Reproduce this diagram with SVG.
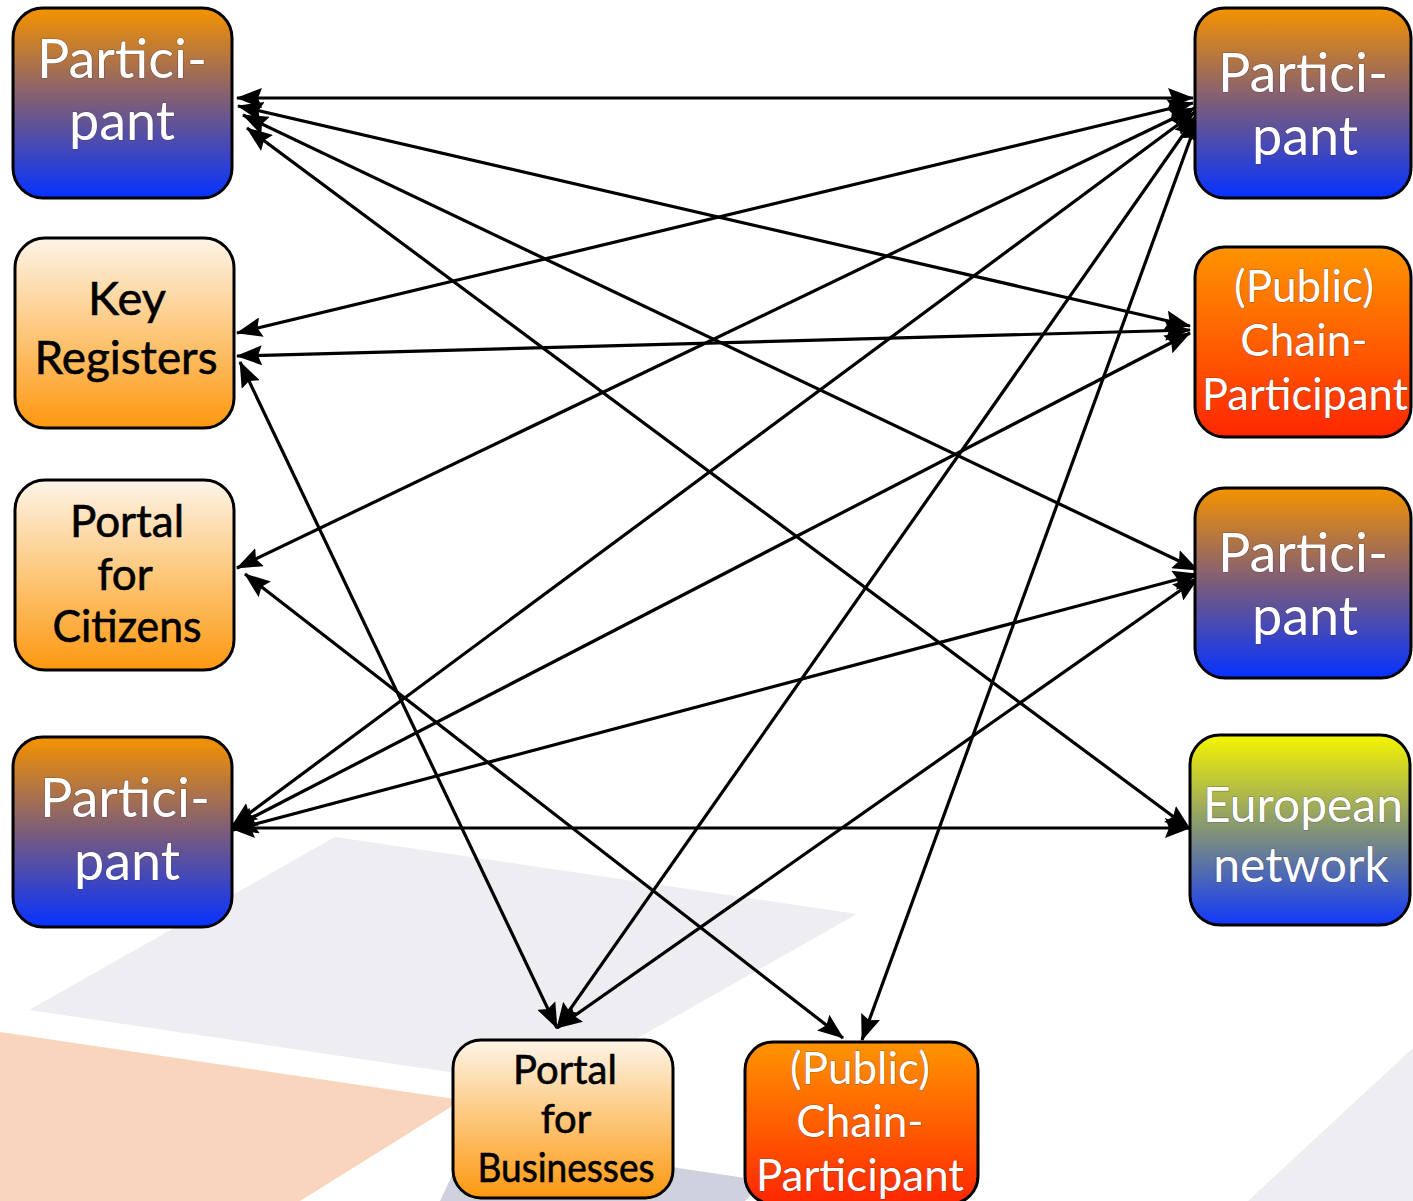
<svg xmlns="http://www.w3.org/2000/svg" width="1413" height="1201" viewBox="0 0 1413 1201">
<defs>
<linearGradient id="gPart" x1="0" y1="0" x2="0" y2="1">
<stop offset="0" stop-color="#f59300"/>
<stop offset="0.5" stop-color="#7b5c7a"/>
<stop offset="1" stop-color="#0632ff"/>
</linearGradient>
<linearGradient id="gCream" x1="0" y1="0" x2="0" y2="1">
<stop offset="0" stop-color="#fdf4e8"/>
<stop offset="0.5" stop-color="#fdc77a"/>
<stop offset="1" stop-color="#fd9810"/>
</linearGradient>
<linearGradient id="gChain" x1="0" y1="0" x2="0" y2="1">
<stop offset="0" stop-color="#ff9400"/>
<stop offset="0.5" stop-color="#ff5f00"/>
<stop offset="1" stop-color="#ff2600"/>
</linearGradient>
<linearGradient id="gEuro" x1="0" y1="0" x2="0" y2="1">
<stop offset="0" stop-color="#f6f500"/>
<stop offset="0.5" stop-color="#839476"/>
<stop offset="1" stop-color="#1238fa"/>
</linearGradient>
<marker id="ah" markerUnits="userSpaceOnUse" markerWidth="26" markerHeight="20" refX="25" refY="10" orient="auto-start-reverse" viewBox="0 0 26 20">
<path d="M0,0 L26,10 L0,20 L4,10 z" fill="#000"/>
</marker>
<style>
.box{stroke:#000;stroke-width:3}
.w{fill:#fff;font-family:Lato,"Noto Sans",sans-serif;text-anchor:middle;paint-order:stroke;stroke:#3a2a40;stroke-width:1.2;stroke-opacity:0.4}
.b{fill:#000;font-family:Lato,"Noto Sans",sans-serif;text-anchor:middle;stroke:#000;stroke-width:0.6}
.c{stroke:#000;stroke-width:3.2;fill:none;marker-start:url(#ah);marker-end:url(#ah)}
</style>
</defs>
<rect width="1413" height="1201" fill="#fff"/>
<g id="background">
<polygon points="335,837 857,914 551,1087 29,1010" fill="#ededf2"/>
<polygon points="0,1032 462,1100 300,1201 0,1201" fill="#f9d5bd"/>
<polygon points="470,1137 765,1181 745,1201 440,1201" fill="#d0d1de"/>
<polygon points="1413,1048 1413,1201 1248,1201" fill="#ededf2"/>
</g>
<g id="connectors">
<line class="c" x1="237" y1="98" x2="1193" y2="98"/>
<line class="c" x1="238" y1="106" x2="1190" y2="326"/>
<line class="c" x1="243" y1="115" x2="1198" y2="570"/>
<line class="c" x1="247" y1="128" x2="1190" y2="829"/>
<line class="c" x1="237" y1="333" x2="1193" y2="103"/>
<line class="c" x1="237" y1="356" x2="1190" y2="330"/>
<line class="c" x1="240" y1="362" x2="557" y2="1028"/>
<line class="c" x1="237" y1="568" x2="1195" y2="108"/>
<line class="c" x1="245" y1="574" x2="843" y2="1038"/>
<line class="c" x1="232" y1="826" x2="1195" y2="112"/>
<line class="c" x1="232" y1="828" x2="1190" y2="333"/>
<line class="c" x1="233" y1="830" x2="1198" y2="574"/>
<line class="c" x1="230" y1="828" x2="1190" y2="828"/>
<line class="c" x1="557" y1="1028" x2="1197" y2="115"/>
<line class="c" x1="557" y1="1028" x2="1198" y2="578"/>
<line class="c" x1="862" y1="1040" x2="1198" y2="118"/>
</g>
<g id="node-participant-1">
<rect class="box" x="13" y="8" width="219" height="190" rx="30" fill="url(#gPart)"/>
<text class="w" x="122" y="78" font-size="54">Partici-</text>
<text class="w" x="122" y="140" font-size="54">pant</text>
</g>
<g id="node-key-registers">
<rect class="box" x="15" y="238" width="219" height="190" rx="30" fill="url(#gCream)"/>
<text class="b" x="127" y="315" font-size="47">Key</text>
<text class="b" x="126" y="374" font-size="47" textLength="183" lengthAdjust="spacingAndGlyphs">Registers</text>
</g>
<g id="node-portal-citizens">
<rect class="box" x="15" y="480" width="219" height="190" rx="30" fill="url(#gCream)"/>
<text class="b" x="127" y="537" font-size="44">Portal</text>
<text class="b" x="125" y="590" font-size="44">for</text>
<text class="b" x="127" y="642" font-size="44" textLength="149" lengthAdjust="spacingAndGlyphs">Citizens</text>
</g>
<g id="node-participant-2">
<rect class="box" x="13" y="737" width="219" height="190" rx="30" fill="url(#gPart)"/>
<text class="w" x="125" y="817" font-size="54">Partici-</text>
<text class="w" x="127" y="880" font-size="54">pant</text>
</g>
<g id="node-participant-3">
<rect class="box" x="1195" y="8" width="216" height="190" rx="30" fill="url(#gPart)"/>
<text class="w" x="1303" y="92" font-size="54">Partici-</text>
<text class="w" x="1305" y="155" font-size="54">pant</text>
</g>
<g id="node-chain-1">
<rect class="box" x="1195" y="247" width="216" height="190" rx="30" fill="url(#gChain)"/>
<text class="w" x="1304" y="302" font-size="44">(Public)</text>
<text class="w" x="1304" y="356" font-size="44">Chain-</text>
<text class="w" x="1305" y="410" font-size="44" textLength="206" lengthAdjust="spacingAndGlyphs">Participant</text>
</g>
<g id="node-participant-4">
<rect class="box" x="1195" y="488" width="216" height="190" rx="30" fill="url(#gPart)"/>
<text class="w" x="1303" y="572" font-size="54">Partici-</text>
<text class="w" x="1305" y="635" font-size="54">pant</text>
</g>
<g id="node-european-network">
<rect class="box" x="1190" y="735" width="220" height="190" rx="30" fill="url(#gEuro)"/>
<text class="w" x="1303" y="822" font-size="48" textLength="200" lengthAdjust="spacingAndGlyphs">European</text>
<text class="w" x="1301" y="882" font-size="48">network</text>
</g>
<g id="node-portal-businesses">
<rect class="box" x="453" y="1040" width="220" height="158" rx="28" fill="url(#gCream)"/>
<text class="b" x="565" y="1084" font-size="40">Portal</text>
<text class="b" x="566" y="1133" font-size="40">for</text>
<text class="b" x="566" y="1182" font-size="40" textLength="177" lengthAdjust="spacingAndGlyphs">Businesses</text>
</g>
<g id="node-chain-2">
<rect class="box" x="745" y="1042" width="233" height="162" rx="28" fill="url(#gChain)"/>
<text class="w" x="860" y="1084" font-size="44">(Public)</text>
<text class="w" x="860" y="1137" font-size="44">Chain-</text>
<text class="w" x="860" y="1191" font-size="44" textLength="208" lengthAdjust="spacingAndGlyphs">Participant</text>
</g>
</svg>
